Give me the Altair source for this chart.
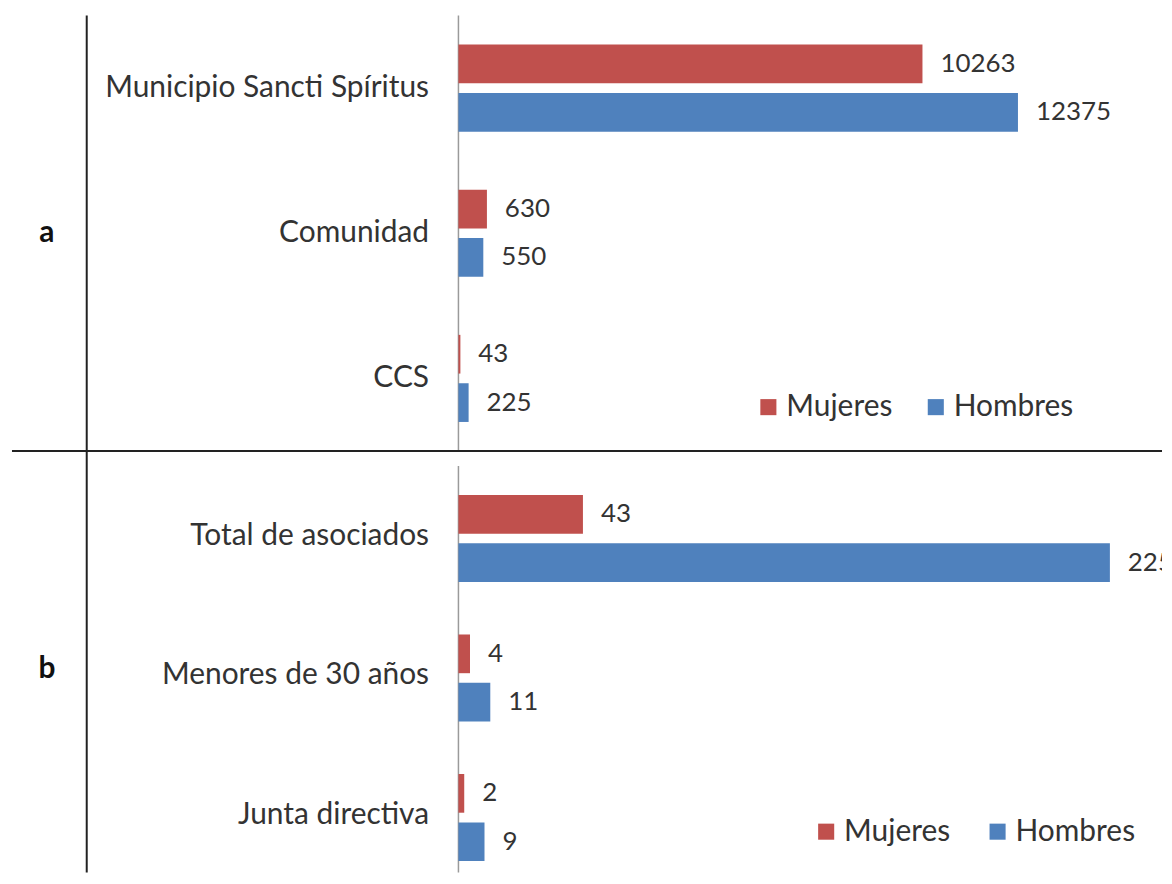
import altair as alt
import pandas as pd

series = ["Mujeres", "Hombres"]
colors = ["#C0504D", "#4F81BD"]

cats_a = ["Municipio Sancti Spíritus", "Comunidad", "CCS"]
mujeres_a = [10263, 630, 43]
hombres_a = [12375, 550, 225]

cats_b = ["Total de asociados", "Menores de 30 años", "Junta directiva"]
mujeres_b = [43, 4, 2]
hombres_b = [225, 11, 9]

panel_labels = ["a", "b"]


def long(cats, muj, hom):
    rows = []
    for c, m, h in zip(cats, muj, hom):
        rows.append({"cat": c, "serie": "Mujeres", "valor": m})
        rows.append({"cat": c, "serie": "Hombres", "valor": h})
    return pd.DataFrame(rows)


FONT = "Lato"
TXT = "#333333"
LINE = "#222222"
AXIS = "#9a9a9a"
W = 706
HA = 437
HB = 408
FS_CAT = 30
FS_NUM = 26
FS_LEG = 30


def panel(df, cats, label, xmax, H, yrange, pi, po, legx, legy, colpad,
          laboff, vtop, sep):
    base = alt.Chart(df)
    y = alt.Y(
        "cat:N",
        sort=cats,
        axis=alt.Axis(
            title=None, ticks=False, labelPadding=30, labelFontSize=FS_CAT,
            labelColor=TXT, labelLimit=0, domain=False, labelFont=FONT,
        ),
        scale=alt.Scale(paddingInner=0, paddingOuter=0, range=[0, yrange]),
    )
    yo = alt.YOffset("serie:N", sort=series,
                     scale=alt.Scale(paddingInner=pi, paddingOuter=po))
    x = alt.X("valor:Q", axis=None,
              scale=alt.Scale(domain=[0, xmax], nice=False, zero=True))
    bars = base.mark_bar().encode(
        y=y, yOffset=yo, x=x,
        color=alt.Color(
            "serie:N",
            scale=alt.Scale(domain=series, range=colors),
            legend=alt.Legend(
                title=None, orient="none", legendX=legx, legendY=legy,
                direction="horizontal", symbolType="square", symbolSize=260,
                labelFontSize=FS_LEG, labelFont=FONT, labelColor=TXT,
                columnPadding=colpad, labelOffset=laboff, padding=0,
                symbolStrokeWidth=0,
            ),
        ),
    )
    text = base.mark_text(
        align="left", baseline="middle", dx=18, fontSize=FS_NUM, color=TXT,
        font=FONT, clip=True,
    ).encode(y=y, yOffset=yo, x=x, text="valor:Q")

    one = pd.DataFrame({"p": [label]})
    lab = alt.Chart(one).mark_text(
        fontSize=FS_CAT, fontWeight="bold", font=FONT, color="#111111",
        align="center", baseline="middle",
    ).encode(text="p:N", x=alt.value(-413), y=alt.value(H / 2))
    vline = alt.Chart(one).mark_rule(color=LINE, strokeWidth=2).encode(
        x=alt.value(-373), y=alt.value(vtop), y2=alt.value(H)
    )
    axline = alt.Chart(one).mark_rule(color=AXIS, strokeWidth=1.5).encode(
        x=alt.value(0), y=alt.value(0), y2=alt.value(H)
    )
    layers = [axline, bars, text, lab, vline]
    if sep:
        hline = alt.Chart(one).mark_rule(color=LINE, strokeWidth=2).encode(
            x=alt.value(-448), x2=alt.value(W), y=alt.value(H)
        )
        layers.append(hline)
    return alt.layer(*layers).properties(width=W, height=H)


pa = panel(long(cats_a, mujeres_a, hombres_a), cats_a, panel_labels[0],
           15561, HA, 437, 0.2, 0.6, 296, 378, 28, 3, 0, True)
pb = panel(long(cats_b, mujeres_b, hombres_b), cats_b, panel_labels[1],
           243.0, HB, 420, 0.213, 0.596, 354, 352, 32, 3, -15, False)

chart = (
    alt.vconcat(pa, pb, spacing=15, bounds="flush")
    .resolve_legend(color="independent")
    .properties(padding={"left": 2, "top": 4, "right": 0, "bottom": 0})
    .configure(font=FONT)
    .configure_view(stroke="transparent")
)

chart.save("out.html", embed_options={"renderer": "svg", "actions": False})
